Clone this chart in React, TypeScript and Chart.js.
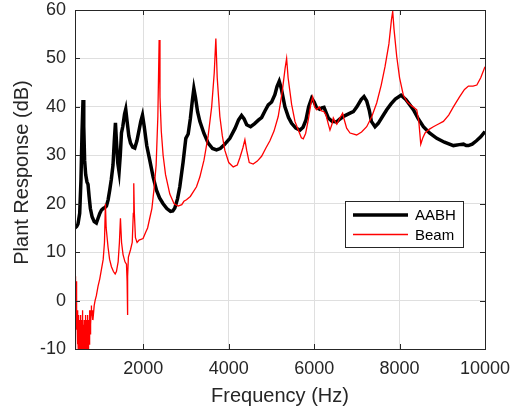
import React, { useEffect, useRef } from "react";
import { Chart, registerables } from "chart.js";

Chart.register(...registerables);

const xTicks = [2000, 4000, 6000, 8000, 10000];
const yTicks = [-10, 0, 10, 20, 30, 40, 50, 60];
const xTitle = "Frequency (Hz)";
const yTitle = "Plant Response (dB)";

const aabhFreq = [400, 440, 470, 510, 540, 565, 588, 605, 625, 650, 680, 705, 730, 760, 800, 850, 900, 940, 980, 1020, 1060, 1100, 1136, 1175, 1213, 1250, 1290, 1320, 1347, 1370, 1400, 1432, 1460, 1488, 1520, 1560, 1588, 1620, 1660, 1700, 1750, 1800, 1850, 1900, 1940, 1980, 2020, 2080, 2150, 2230, 2308, 2380, 2463, 2550, 2636, 2690, 2737, 2800, 2854, 2930, 2995, 3050, 3100, 3150, 3183, 3220, 3270, 3323, 3420, 3518, 3620, 3713, 3800, 3900, 4026, 4150, 4230, 4300, 4360, 4420, 4511, 4600, 4700, 4769, 4850, 4925, 5004, 5080, 5130, 5182, 5230, 5315, 5400, 5472, 5570, 5667, 5740, 5808, 5870, 5941, 6000, 6058, 6130, 6180, 6230, 6280, 6331, 6420, 6527, 6604, 6700, 6840, 6917, 7000, 7100, 7167, 7230, 7290, 7340, 7425, 7500, 7600, 7699, 7800, 7900, 8034, 8150, 8250, 8323, 8440, 8557, 8700, 8871, 9050, 9260, 9400, 9495, 9560, 9612, 9700, 9800, 9900, 10000];
const aabhDb = [15, 15.3, 15.8, 18, 25, 35, 41.4, 36, 29, 26, 24.5, 24, 21.5, 19, 17.3, 16.3, 16, 17, 18, 18.7, 19, 19.2, 19.5, 20.8, 22.8, 25, 28, 33, 36.7, 33, 28.5, 26.6, 30, 34.6, 36, 38.5, 39.5, 37, 34, 32.5, 31.7, 31.5, 33, 35.2, 37, 38.3, 36, 32, 29, 25.5, 22.8, 21.2, 20, 19, 18.4, 18.5, 19.1, 21, 23.5, 28.5, 33.5, 34.4, 37.5, 41.5, 43.8, 42, 39, 37, 34.5, 32.5, 31.4, 31.1, 31.4, 32.2, 33.5, 35.6, 37.3, 38.2, 37.5, 36.3, 35.9, 36.5, 37.3, 37.8, 39.2, 40.4, 41, 42.5, 44.2, 45.3, 43.8, 40, 37.8, 36.6, 35.6, 35.2, 35.8, 37.3, 40, 41.8, 41, 39.8, 39.5, 39.8, 39.9, 38.8, 37.7, 37, 36.9, 37.5, 38.1, 38.7, 39, 40, 41.5, 42.1, 41.2, 39.3, 37, 35.9, 36.6, 38, 39.4, 40.6, 41.6, 42.4, 41.5, 40.3, 39.4, 37.5, 35.9, 34.6, 33.5, 32.7, 32, 32.2, 32.3, 32, 32, 32.3, 33, 33.8, 34.9];

const beamFreq = [400, 405, 410, 415, 420, 425, 430, 437, 445, 450, 455, 460, 465, 470, 475, 480, 485, 490, 495, 500, 505, 510, 515, 520, 525, 530, 535, 540, 545, 550, 555, 560, 565, 570, 575, 580, 585, 590, 595, 600, 605, 610, 615, 620, 625, 630, 635, 640, 645, 650, 655, 660, 665, 670, 675, 680, 685, 690, 695, 700, 705, 710, 715, 720, 725, 730, 735, 740, 745, 750, 755, 760, 765, 770, 775, 780, 790, 800, 810, 820, 830, 850, 870, 900, 940, 980, 1020, 1060, 1090, 1112, 1130, 1174, 1210, 1253, 1300, 1340, 1370, 1410, 1440, 1464, 1490, 1525, 1570, 1605, 1620, 1628, 1636, 1650, 1700, 1740, 1765, 1776, 1790, 1815, 1854, 1900, 1994, 2050, 2100, 2150, 2200, 2250, 2300, 2340, 2370, 2390, 2420, 2463, 2520, 2620, 2720, 2814, 2900, 2950, 3010, 3100, 3245, 3323, 3420, 3518, 3600, 3660, 3698, 3730, 3792, 3850, 3909, 4000, 4104, 4200, 4260, 4330, 4378, 4420, 4480, 4572, 4669, 4769, 4870, 4964, 5060, 5158, 5250, 5320, 5355, 5390, 5472, 5550, 5628, 5700, 5745, 5800, 5862, 5920, 5965, 6010, 6058, 6120, 6160, 6230, 6277, 6330, 6370, 6420, 6448, 6500, 6530, 6600, 6666, 6700, 6760, 6840, 6995, 7110, 7230, 7350, 7464, 7570, 7659, 7750, 7810, 7839, 7870, 7933, 8000, 8088, 8180, 8285, 8402, 8450, 8496, 8540, 8597, 8700, 8791, 8900, 9026, 9150, 9260, 9400, 9520, 9612, 9720, 9809, 9900, 10000];
const beamDb = [-10, -2, 3, 5, 1, 4, -1, 2, -6, -2, -4, -9, -3, -6, -10, -5, -8, -3, -11, -6, -4, -9, -12, -6, -3, -10, -7, -12, -5, -8, -11, -4, -9, -12, -6, -2, -10, -7, -12, -5, -9, -11, -4, -8, -12, -6, -10, -3, -9, -12, -7, -5, -11, -8, -12, -4, -9, -6, -11, -3, -8, -12, -6, -10, -4, -9, -7, -2, -8, -5, -3, -7, -2, -5, -3, -1, -3, -2, -4, -2, -3, -1, 0, 1, 3, 4.5, 6.5, 8.5, 12, 20, 15, 11, 8.5, 7, 6, 5.5, 6, 8, 12, 17, 12, 9.5, 8, 7.5, 4, -3, 5, 9, 10.5, 12, 18, 24.2, 18, 13, 12, 12.5, 12.8, 14, 15, 17, 19, 23, 28, 38, 53.8, 42, 35, 30, 26, 22, 20, 19.5, 19.8, 20.5, 20.8, 21.5, 23.5, 25.5, 29, 34, 40, 47, 54.1, 46, 38, 34, 31, 28.5, 27.6, 28, 29.5, 31.5, 33.2, 31, 28.5, 28.2, 28.8, 29.8, 31.5, 33, 35, 38, 43, 48, 50, 46, 40.5, 37, 35.2, 33.6, 33.4, 34.5, 37.3, 40.5, 42.1, 40, 39.4, 40, 39.2, 39, 38.3, 36.5, 35.2, 36.5, 37.7, 36.8, 36.4, 37.7, 38.7, 37.5, 35.6, 34.6, 34.2, 34.8, 35.9, 38, 40.8, 44.5, 48.3, 53, 58, 59.7, 56, 50.4, 46, 42.4, 41, 40.2, 39.4, 37, 32.3, 33.5, 34.6, 35.4, 35.9, 36.4, 37, 38.3, 40, 42, 43.6, 44.3, 44.3, 44.5, 46, 48.3];

const seriesNames = ["AABH", "Beam"];

const FONT = "'Liberation Sans', Arial, Helvetica, sans-serif";
const INK = "#262626";

const boxPlugin = {
  id: "matlabBox",
  afterDatasetsDraw(chart: any) {
    const { ctx, chartArea: a, scales } = chart;
    ctx.save();
    ctx.strokeStyle = INK;
    ctx.lineWidth = 1;
    ctx.beginPath();
    const tl = 5;
    for (const v of xTicks) {
      const px = Math.round(scales.x.getPixelForValue(v)) + 0.5;
      ctx.moveTo(px, a.bottom);
      ctx.lineTo(px, a.bottom - tl);
      ctx.moveTo(px, a.top);
      ctx.lineTo(px, a.top + tl);
    }
    for (const v of yTicks) {
      const py = Math.round(scales.y.getPixelForValue(v)) + 0.5;
      ctx.moveTo(a.left, py);
      ctx.lineTo(a.left + tl, py);
      ctx.moveTo(a.right, py);
      ctx.lineTo(a.right - tl, py);
    }
    ctx.stroke();
    ctx.strokeRect(Math.round(a.left) + 0.5, Math.round(a.top) + 0.5, Math.round(a.right - a.left), Math.round(a.bottom - a.top));

    // axis titles
    ctx.fillStyle = INK;
    ctx.font = `20px ${FONT}`;
    ctx.textAlign = "center";
    ctx.textBaseline = "alphabetic";
    ctx.fillText(xTitle, (a.left + a.right) / 2, a.bottom + 53);
    ctx.save();
    ctx.translate(a.left - 47, (a.top + a.bottom) / 2 - 7);
    ctx.rotate(-Math.PI / 2);
    ctx.fillText(yTitle, 0, 0);
    ctx.restore();

    // legend
    const lx = a.right - 140;
    const ly = a.top + 191;
    const lw = 118;
    const lh = 46;
    ctx.fillStyle = "#ffffff";
    ctx.fillRect(lx, ly, lw, lh);
    ctx.strokeStyle = INK;
    ctx.lineWidth = 1;
    ctx.strokeRect(lx + 0.5, ly + 0.5, lw, lh);
    ctx.font = `15px ${FONT}`;
    ctx.textBaseline = "middle";
    ctx.textAlign = "left";
    chart.data.datasets.forEach((ds: any, i: number) => {
      const yy = ly + 14 + i * 19.5;
      ctx.strokeStyle = ds.borderColor;
      ctx.lineWidth = ds.borderWidth;
      ctx.beginPath();
      ctx.moveTo(lx + 8, yy);
      ctx.lineTo(lx + 63, yy);
      ctx.stroke();
      ctx.fillStyle = "#000000";
      ctx.fillText(ds.label, lx + 70, yy + 1);
    });
    ctx.restore();
  },
};

export default function App() {
  const ref = useRef<HTMLCanvasElement | null>(null);
  useEffect(() => {
    if (!ref.current) return;
    const chart = new Chart(ref.current, {
      type: "line",
      data: {
        datasets: [
          {
            label: seriesNames[0],
            data: aabhFreq.map((f, i) => ({ x: f, y: aabhDb[i] })),
            borderColor: "#000000",
            borderWidth: 3.5,
            pointRadius: 0,
            tension: 0,
            order: 1,
          },
          {
            label: seriesNames[1],
            data: beamFreq.map((f, i) => ({ x: f, y: beamDb[i] })),
            borderColor: "#ff0000",
            borderWidth: 1.3,
            pointRadius: 0,
            tension: 0,
            order: 0,
          },
        ],
      },
      options: {
        animation: false,
        responsive: false,
        events: [],
        layout: { padding: { top: 10, right: 25, left: 0, bottom: 0 } },
        plugins: { legend: { display: false }, tooltip: { enabled: false } },
        scales: {
          x: {
            type: "linear",
            min: 400,
            max: 10000,
            afterFit: (s: any) => {
              s.height = 60;
              s.paddingLeft = 0;
              s.paddingRight = 0;
            },
            afterBuildTicks: (s: any) => {
              s.ticks = xTicks.map((v) => ({ value: v }));
            },
            ticks: { font: { size: 18, family: FONT }, color: INK, padding: 9, maxRotation: 0, autoSkip: false, callback: (v: any) => String(v) },
            grid: { color: "#dfdfdf", drawTicks: false, lineWidth: 1 },
            border: { display: false },
            title: { display: false },
          },
          y: {
            type: "linear",
            min: -10,
            max: 60,
            afterFit: (s: any) => {
              s.width = 75;
              s.paddingTop = 0;
              s.paddingBottom = 0;
            },
            afterBuildTicks: (s: any) => {
              s.ticks = yTicks.map((v) => ({ value: v }));
            },
            ticks: { font: { size: 18, family: FONT }, color: INK, padding: 9, autoSkip: false, callback: (v: any) => String(v) },
            grid: { color: "#dfdfdf", drawTicks: false, lineWidth: 1 },
            border: { display: false },
            title: { display: false },
          },
        },
      },
      plugins: [boxPlugin],
    });
    return () => chart.destroy();
  }, []);
  return (
    <div style={{ position: "fixed", left: 0, top: 0, width: 510, height: 409, background: "#fff" }}>
      <canvas ref={ref} width={510} height={409} style={{ width: 510, height: 409, display: "block" }} />
    </div>
  );
}
